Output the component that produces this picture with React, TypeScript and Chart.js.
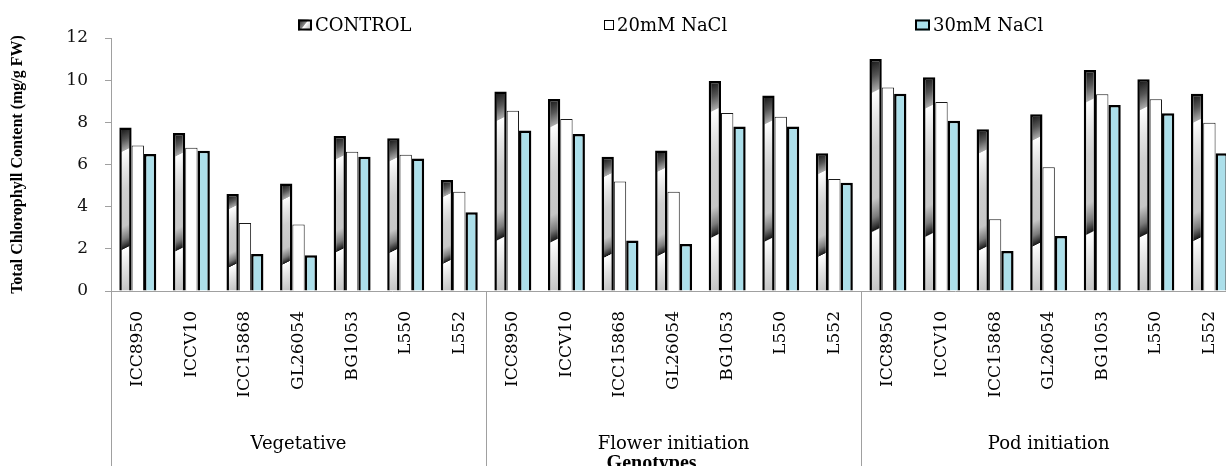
import React, { useEffect, useRef } from "react";
import { Chart, registerables } from "chart.js";

Chart.register(...registerables);

const stages = ["Vegetative", "Flower initiation", "Pod initiation"];
const genotypes = ["ICC8950", "ICCV10", "ICC15868", "GL26054", "BG1053", "L550", "L552"];
const seriesNames = ["CONTROL", "20mM NaCl", "30mM NaCl"];
const yTicks = [0, 2, 4, 6, 8, 10, 12];

const control = [
  7.75, 7.5, 4.6, 5.1, 7.35, 7.24, 5.27,
  9.46, 9.11, 6.37, 6.66, 9.96, 9.27, 6.53,
  11.0, 10.14, 7.67, 8.38, 10.48, 10.04, 9.36,
];
const nacl20 = [
  6.9, 6.8, 3.22, 3.15, 6.61, 6.46, 4.71,
  8.55, 8.16, 5.19, 4.71, 8.44, 8.27, 5.31,
  9.65, 8.97, 3.4, 5.87, 9.33, 9.09, 7.98,
];
const nacl30 = [
  6.5, 6.65, 1.75, 1.7, 6.37, 6.28, 3.73,
  7.61, 7.45, 2.39, 2.23, 7.8, 7.8, 5.14,
  9.36, 8.08, 1.9, 2.61, 8.82, 8.43, 6.53,
];

const categories = stages.flatMap(() => genotypes);

const CAT_PCT = 0.69;
const CYAN = "#acdfea";
const AXIS_GRAY = "#a0a0a0";

function chromeGradient(ctx: CanvasRenderingContext2D, cx: number, top: number, bottom: number) {
  const H = Math.max(bottom - top, 1);
  const s = 0.5;
  const k = 1 + s * s;
  const g = ctx.createLinearGradient(cx, top, cx + (s * H) / k, top + H / k);
  g.addColorStop(0, "#1a1a1a");
  g.addColorStop(0.07, "#555555");
  g.addColorStop(0.135, "#a8a8a8");
  g.addColorStop(0.14, "#ffffff");
  g.addColorStop(0.26, "#e4e4e4");
  g.addColorStop(0.38, "#cfcfcf");
  g.addColorStop(0.6, "#c6c6c6");
  g.addColorStop(0.68, "#7a7a7a");
  g.addColorStop(0.735, "#1a1a1a");
  g.addColorStop(0.74, "#ffffff");
  g.addColorStop(0.86, "#e2e2e2");
  g.addColorStop(1, "#c4c4c4");
  return g;
}

const overlayPlugin = {
  id: "overlay",
  afterDraw(chart: any) {
    const { ctx, chartArea, scales } = chart;
    const xs = scales.x;
    const catW = xs.getPixelForValue(1) - xs.getPixelForValue(0);
    ctx.save();
    ctx.strokeStyle = AXIS_GRAY;
    ctx.lineWidth = 1;
    for (let k = 0; k <= stages.length; k++) {
      const px = Math.round(xs.getPixelForValue(k * genotypes.length) - catW / 2) + 0.5;
      ctx.beginPath();
      ctx.moveTo(px, chartArea.bottom);
      ctx.lineTo(px, chart.height);
      ctx.stroke();
    }
    ctx.fillStyle = "#000";
    ctx.font = "18px 'DejaVu Serif'";
    ctx.textAlign = "center";
    ctx.textBaseline = "middle";
    stages.forEach((s, k) => {
      const a = xs.getPixelForValue(k * genotypes.length) - catW / 2;
      const b = xs.getPixelForValue((k + 1) * genotypes.length) - catW / 2;
      ctx.fillText(s, (a + b) / 2, chartArea.bottom + 153);
    });
    ctx.font = "bold 20px 'Liberation Serif'";
    ctx.fillText("Genotypes", (chartArea.left + chartArea.right) / 2 - 22, chartArea.bottom + 173);

    const items = [
      { x: 298, w: 14, h: 11, lw: 2 },
      { x: 604, w: 10, h: 10, lw: 1 },
      { x: 915, w: 15, h: 11, lw: 2 },
    ];
    const cy = 25;
    ctx.textAlign = "left";
    ctx.font = "18px 'DejaVu Serif'";
    items.forEach((it, i) => {
      const top = cy - it.h / 2;
      if (i === 0) {
        const g = ctx.createLinearGradient(it.x, top, it.x + it.w, top + it.h);
        g.addColorStop(0, "#111");
        g.addColorStop(0.45, "#888");
        g.addColorStop(0.5, "#fff");
        g.addColorStop(1, "#999");
        ctx.fillStyle = g;
      } else if (i === 1) {
        ctx.fillStyle = "#fff";
      } else {
        ctx.fillStyle = CYAN;
      }
      ctx.fillRect(it.x, top, it.w, it.h);
      ctx.strokeStyle = "#000";
      ctx.lineWidth = it.lw;
      ctx.strokeRect(it.x + it.lw / 2, top + it.lw / 2, it.w - it.lw, it.h - it.lw);
      ctx.fillStyle = "#000";
      ctx.fillText(seriesNames[i], it.x + it.w + 3, cy + 1);
    });
    ctx.restore();
  },
};

export default function App() {
  const ref = useRef<HTMLCanvasElement | null>(null);

  useEffect(() => {
    if (!ref.current) return;
    const chart = new Chart(ref.current, {
      type: "bar",
      data: {
        labels: categories,
        datasets: [
          {
            label: seriesNames[0],
            data: control,
            backgroundColor: (c: any) => {
              const ch = c.chart;
              const sc = ch.scales;
              if (!ch.chartArea || !sc || !sc.x || !sc.y || c.type !== "data") return "#888";
              const catW = sc.x.getPixelForValue(1) - sc.x.getPixelForValue(0);
              const cx = sc.x.getPixelForValue(c.dataIndex) - (catW * CAT_PCT) / 3;
              const top = sc.y.getPixelForValue(c.raw);
              const bot = sc.y.getPixelForValue(0);
              return chromeGradient(ch.ctx, cx, top, bot);
            },
            borderColor: "#000",
            borderWidth: 2.5,
          },
          {
            label: seriesNames[1],
            data: nacl20,
            backgroundColor: "#ffffff",
            borderColor: "#1a1a1a",
            borderWidth: 1,
          },
          {
            label: seriesNames[2],
            data: nacl30,
            backgroundColor: CYAN,
            borderColor: "#000",
            borderWidth: 2.5,
          },
        ],
      },
      options: {
        responsive: false,
        animation: false,
        layout: { padding: { top: 38, right: 8, left: 0, bottom: 0 } },
        datasets: {
          bar: { categoryPercentage: CAT_PCT, barPercentage: 1.0 },
        },
        plugins: {
          legend: { display: false },
          tooltip: { enabled: false },
        },
        scales: {
          x: {
            grid: { display: false, drawTicks: false },
            border: { display: true, color: AXIS_GRAY },
            ticks: {
              autoSkip: false,
              minRotation: 90,
              maxRotation: 90,
              padding: 20,
              color: "#000",
              font: { family: "'DejaVu Serif'", size: 17 },
            },
            afterFit: (scale: any) => {
              scale.height = 189;
            },
          },
          y: {
            min: 0,
            max: 12,
            afterBuildTicks: (scale: any) => {
              scale.ticks = yTicks.map((v) => ({ value: v }));
            },
            grid: { drawOnChartArea: false, drawTicks: true, tickLength: 6, color: AXIS_GRAY },
            border: { display: true, color: AXIS_GRAY },
            ticks: {
              padding: 17,
              color: "#111",
              font: { family: "'DejaVu Serif'", size: 17 },
            },
            title: {
              display: true,
              text: "Total Chlorophyll Content (mg/g FW)",
              color: "#000",
              padding: { top: 8, bottom: 0 },
              font: { family: "'Liberation Serif'", size: 16, weight: "bold" },
            },
            afterFit: (scale: any) => {
              scale.width = 111;
            },
          },
        },
      },
      plugins: [overlayPlugin],
    });
    return () => chart.destroy();
  }, []);

  return (
    <div
      style={{
        position: "fixed",
        left: 0,
        top: 0,
        width: 1226,
        height: 466,
        overflow: "hidden",
        background: "#fff",
      }}
    >
      <canvas ref={ref} width={1250} height={480} style={{ display: "block" }} />
    </div>
  );
}
